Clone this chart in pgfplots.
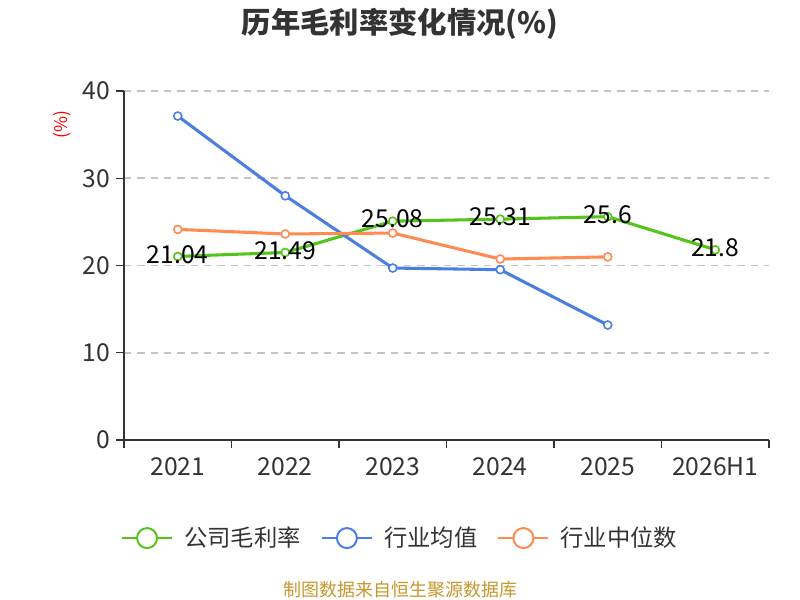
\documentclass[border=0pt]{standalone}
\usepackage{pgfplots}
\pgfplotsset{compat=1.18}
\usepackage{fontspec}
\setmainfont{Noto Sans CJK SC}
\definecolor{cgreen}{HTML}{52C41A}
\definecolor{cblue}{HTML}{4A7FE1}
\definecolor{corange}{HTML}{FF8A52}
\definecolor{ctext}{HTML}{333333}
\definecolor{cgrid}{HTML}{C4C4C4}
\definecolor{cfoot}{HTML}{C9962C}
\begin{document}
\begin{tikzpicture}
\path[use as bounding box] (0,0) rectangle (600pt,450pt);
\begin{axis}[
  at={(93pt,120pt)}, anchor=south west,
  scale only axis, width=483.75pt, height=261.75pt,
  xmin=-0.5, xmax=5.5, ymin=0, ymax=40,
  axis x line*=bottom, axis y line*=left,
  axis line style={ctext, line width=1.1pt, -},
  xtick={0,1,2,3,4,5},
  xticklabels={2021,2022,2023,2024,2025,2026H1},
  minor xtick={-0.5,0.5,1.5,2.5,3.5,4.5,5.5},
  ytick={0,10,20,30,40},
  tick align=outside,
  major tick length=6pt, minor tick length=6pt,
  x tick style={draw=none},
  minor x tick style={draw=ctext, line width=1.1pt},
  y tick style={draw=ctext, line width=1.1pt},
  ymajorgrids,
  major grid style={cgrid, line width=1.3pt, dash pattern=on 5.5pt off 4.5pt},
  /pgf/number format/assume math mode=true,
  tick label style={font=\fontsize{18.5}{21}\selectfont, text=ctext},
  xticklabel style={yshift=-3.5pt},
  yticklabel style={xshift=-1pt},
  ylabel={(\%)},
  ylabel style={at={(rel axis cs:-0.096,0.903)}, anchor=center, rotate=0, text=red, font=\fontsize{13}{15}\selectfont},
  title={\bfseries 历年毛利率变化情况(\%)},
  title style={at={(rel axis cs:0.428,1.169)}, anchor=center, yshift=0pt, text=ctext, font=\fontsize{22}{26}\selectfont},
  legend columns=3,
  legend style={at={(rel axis cs:-0.005,-0.281)}, anchor=west, draw=none, fill=none,
    font=\fontsize{17.5}{20}\selectfont, text=ctext, inner sep=0pt,
    nodes={inner sep=0pt, anchor=west}},
  legend image code/.code={
    \draw[#1, line width=1.5pt, mark=none] (0pt,0pt) -- (37.5pt,0pt);
    \draw[#1, line width=1.5pt, fill=white] (18.75pt,0pt) circle (7.5pt);
    \path (45.5pt,0pt);
  },
  clip=false,
]
\addplot[cgreen, line width=2.3pt, mark=*, mark size=3pt, mark options={fill=white, line width=1.2pt},
  nodes near coords, point meta=explicit symbolic,
  every node near coord/.append style={anchor=center, yshift=1.5pt, text=black, font=\fontsize{18.5}{21}\selectfont}]
  table[meta=label] {
x y label
0 21.04 21.04
1 21.49 21.49
2 25.08 25.08
3 25.31 25.31
4 25.6 25.6
5 21.8 21.8
};
\addlegendentry{公司毛利率\hspace*{15pt}}
\addplot[cblue, line width=2.3pt, mark=*, mark size=3pt, mark options={fill=white, line width=1.2pt}]
  coordinates {(0,37.13) (1,27.99) (2,19.71) (3,19.52) (4,13.18)};
\addlegendentry{行业均值\hspace*{15pt}}
\addplot[corange, line width=2.3pt, mark=*, mark size=3pt, mark options={fill=white, line width=1.2pt}]
  coordinates {(0,24.14) (1,23.61) (2,23.72) (3,20.74) (4,20.99)};
\addlegendentry{行业中位数}
\node[text=cfoot, font=\fontsize{13.5}{16}\selectfont] at (rel axis cs:0.428,-0.43) {制图数据来自恒生聚源数据库};
\end{axis}
\end{tikzpicture}
\end{document}
